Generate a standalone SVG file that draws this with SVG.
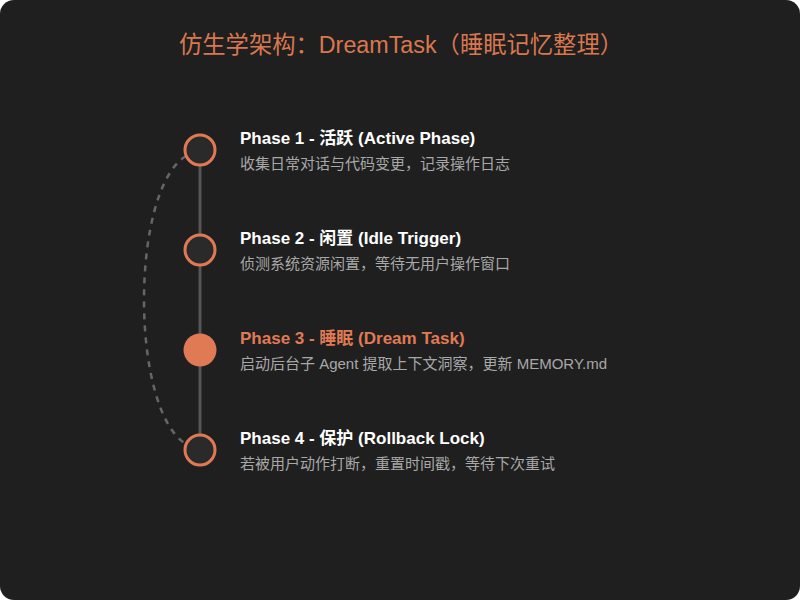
<svg xmlns="http://www.w3.org/2000/svg" width="800" height="600" viewBox="0 0 800 600">
<style>
.title{font-family:"Liberation Sans","Noto Sans CJK SC",sans-serif;font-size:23.3px;fill:#D9774F}
.ph{font-family:"Liberation Sans","Noto Sans CJK SC",sans-serif;font-size:17px;font-weight:bold;fill:#ffffff}
.ph.active{fill:#E07A55}
.desc{font-family:"Liberation Sans","Noto Sans CJK SC",sans-serif;font-size:15px;fill:#a8a8a8}
.ring{fill:#2a2a2a;stroke:#E07A55;stroke-width:3}
.dot{fill:#E07A55}
</style>
<rect x="0" y="0" width="800" height="600" fill="#ffffff"/>
<rect x="0" y="0" width="800" height="600" rx="14" fill="#1f1f1f"/>
<text class="title" x="401" y="53" text-anchor="middle">仿生学架构：DreamTask（睡眠记忆整理）</text>
<g id="connectors">
<line x1="200" y1="150" x2="200" y2="450" stroke="#555555" stroke-width="3"/>
<path d="M 186 156 C 130 190, 130 410, 186 444" fill="none" stroke="#666666" stroke-width="2.5" stroke-dasharray="6 6"/>
</g>
<g id="phase1">
<circle class="ring" cx="200" cy="150" r="15"/>
<text class="ph" x="240" y="144">Phase 1 - 活跃 (Active Phase)</text>
<text class="desc" x="240" y="169">收集日常对话与代码变更，记录操作日志</text>
</g>
<g id="phase2">
<circle class="ring" cx="200" cy="250" r="15"/>
<text class="ph" x="240" y="244">Phase 2 - 闲置 (Idle Trigger)</text>
<text class="desc" x="240" y="269">侦测系统资源闲置，等待无用户操作窗口</text>
</g>
<g id="phase3">
<circle class="dot" cx="200" cy="350" r="16.5"/>
<text class="ph active" x="240" y="344">Phase 3 - 睡眠 (Dream Task)</text>
<text class="desc" x="240" y="369">启动后台子 Agent 提取上下文洞察，更新 MEMORY.md</text>
</g>
<g id="phase4">
<circle class="ring" cx="200" cy="450" r="15"/>
<text class="ph" x="240" y="444">Phase 4 - 保护 (Rollback Lock)</text>
<text class="desc" x="240" y="469">若被用户动作打断，重置时间戳，等待下次重试</text>
</g>
</svg>
